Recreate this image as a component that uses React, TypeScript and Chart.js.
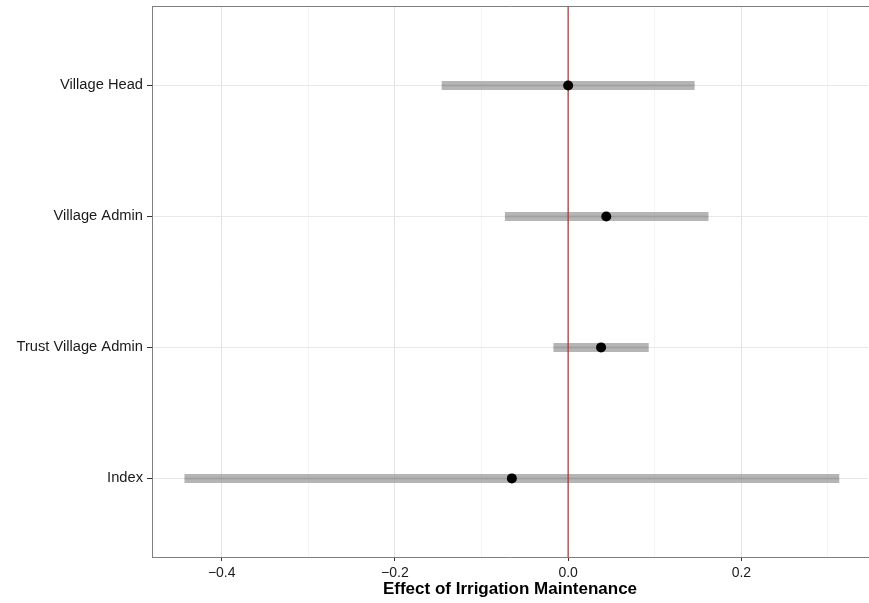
import React, { useEffect, useRef } from "react";
import { Chart, registerables } from "chart.js";

Chart.register(...registerables);

const categories = ["Village Head", "Village Admin", "Trust Village Admin", "Index"];
const estimates = [0.0, 0.044, 0.038, -0.065];
const lowerBounds = [-0.146, -0.073, -0.017, -0.443];
const upperBounds = [0.146, 0.162, 0.093, 0.313];
const majorTicks = [-0.4, -0.2, 0, 0.2];
const minorTicks = [-0.3, -0.1, 0.1, 0.3];
const xTitle = "Effect of Irrigation Maintenance";

const fmt = (v: number) => {
  const s = Math.abs(v).toFixed(1);
  return v < -1e-9 ? "\u2212" + s : s;
};

export default function App() {
  const ref = useRef<HTMLCanvasElement | null>(null);

  useEffect(() => {
    if (!ref.current) return;
    const datasets: any[] = [];
    categories.forEach((c, i) => {
      datasets.push({
        type: "line",
        data: [
          { x: lowerBounds[i], y: i },
          { x: upperBounds[i], y: i },
        ],
        borderColor: "rgba(150,150,150,0.7)",
        borderWidth: 9,
        borderCapStyle: "butt",
        pointRadius: 0,
        order: 5,
      });
      datasets.push({
        type: "line",
        data: [
          { x: lowerBounds[i], y: i },
          { x: upperBounds[i], y: i },
        ],
        borderColor: "rgba(140,140,140,0.4)",
        borderWidth: 2,
        borderCapStyle: "butt",
        pointRadius: 0,
        order: 4,
      });
    });
    datasets.push({
      type: "line",
      data: [
        { x: 0, y: -0.6 },
        { x: 0, y: 3.6 },
      ],
      borderColor: "rgba(165,45,45,0.72)",
      borderWidth: 1.6,
      pointRadius: 0,
      order: 3,
    });
    datasets.push({
      type: "scatter",
      data: estimates.map((e, i) => ({ x: e, y: i })),
      backgroundColor: "#000",
      borderColor: "#000",
      pointRadius: 5,
      borderWidth: 0,
      order: 1,
    });

    const allTicks = [...majorTicks, ...minorTicks].sort((a, b) => a - b);
    const isMajor = (v: number) => majorTicks.some((m) => Math.abs(m - v) < 1e-9);
    const font = "Liberation Sans, Arial, sans-serif";

    const chart = new Chart(ref.current, {
      type: "scatter",
      data: { datasets },
      options: {
        animation: false,
        responsive: false,
        maintainAspectRatio: false,
        layout: { padding: 0 },
        plugins: { legend: { display: false }, tooltip: { enabled: false } },
        scales: {
          x: {
            type: "linear",
            position: "bottom",
            min: -0.4805,
            max: 0.3462,
            afterBuildTicks: (s: any) => {
              s.ticks = allTicks.map((v) => ({ value: v }));
            },
            afterFit: (s: any) => {
              s.height = 46;
            },
            ticks: {
              autoSkip: false,
              maxRotation: 0,
              padding: 4,
              color: "#1a1a1a",
              font: { family: font, size: 14 },
              callback: (v: any) => (isMajor(Number(v)) ? fmt(Number(v)) : ""),
            },
            grid: {
              color: (ctx: any) => (isMajor(ctx.tick?.value) ? "#e3e3e3" : "#f4f4f4"),
              lineWidth: 1,
              tickLength: 4,
              tickColor: (ctx: any) => (isMajor(ctx.tick?.value) ? "#333" : "rgba(0,0,0,0)"),
            },
            border: { display: true, color: "#7f7f7f", width: 1 },
            title: {
              display: true,
              text: xTitle,
              color: "#000",
              font: { family: font, size: 17, weight: "bold" },
              padding: { top: 0, bottom: 3 },
            },
          },
          xTop: {
            type: "linear",
            position: "top",
            min: -0.4805,
            max: 0.3462,
            afterFit: (s: any) => {
              s.height = 6;
            },
            ticks: { display: false },
            grid: { drawOnChartArea: false, drawTicks: false },
            border: { display: true, color: "#7f7f7f", width: 1 },
          },
          y: {
            type: "linear",
            min: -0.6,
            max: 3.6,
            reverse: true,
            afterBuildTicks: (s: any) => {
              s.ticks = categories.map((_, i) => ({ value: i }));
            },
            afterFit: (s: any) => {
              s.width = 152;
            },
            ticks: {
              autoSkip: false,
              padding: 4,
              color: "#1a1a1a",
              font: { family: font, size: 14.7 },
              callback: (v: any) => categories[Math.round(Number(v))] ?? "",
            },
            grid: {
              color: "#e8e8e8",
              lineWidth: 1,
              tickLength: 5,
              tickColor: "#333",
            },
            border: { display: true, color: "#7f7f7f", width: 1 },
          },
        },
      } as any,
    });
    return () => chart.destroy();
  }, []);

  return (
    <div
      style={{
        position: "absolute",
        left: 0,
        top: 0,
        width: 869,
        height: 603,
        overflow: "hidden",
        background: "#fff",
      }}
    >
      <canvas
        ref={ref}
        width={873}
        height={609}
        style={{ display: "block", position: "absolute", left: 0, top: -6 }}
      />
    </div>
  );
}
